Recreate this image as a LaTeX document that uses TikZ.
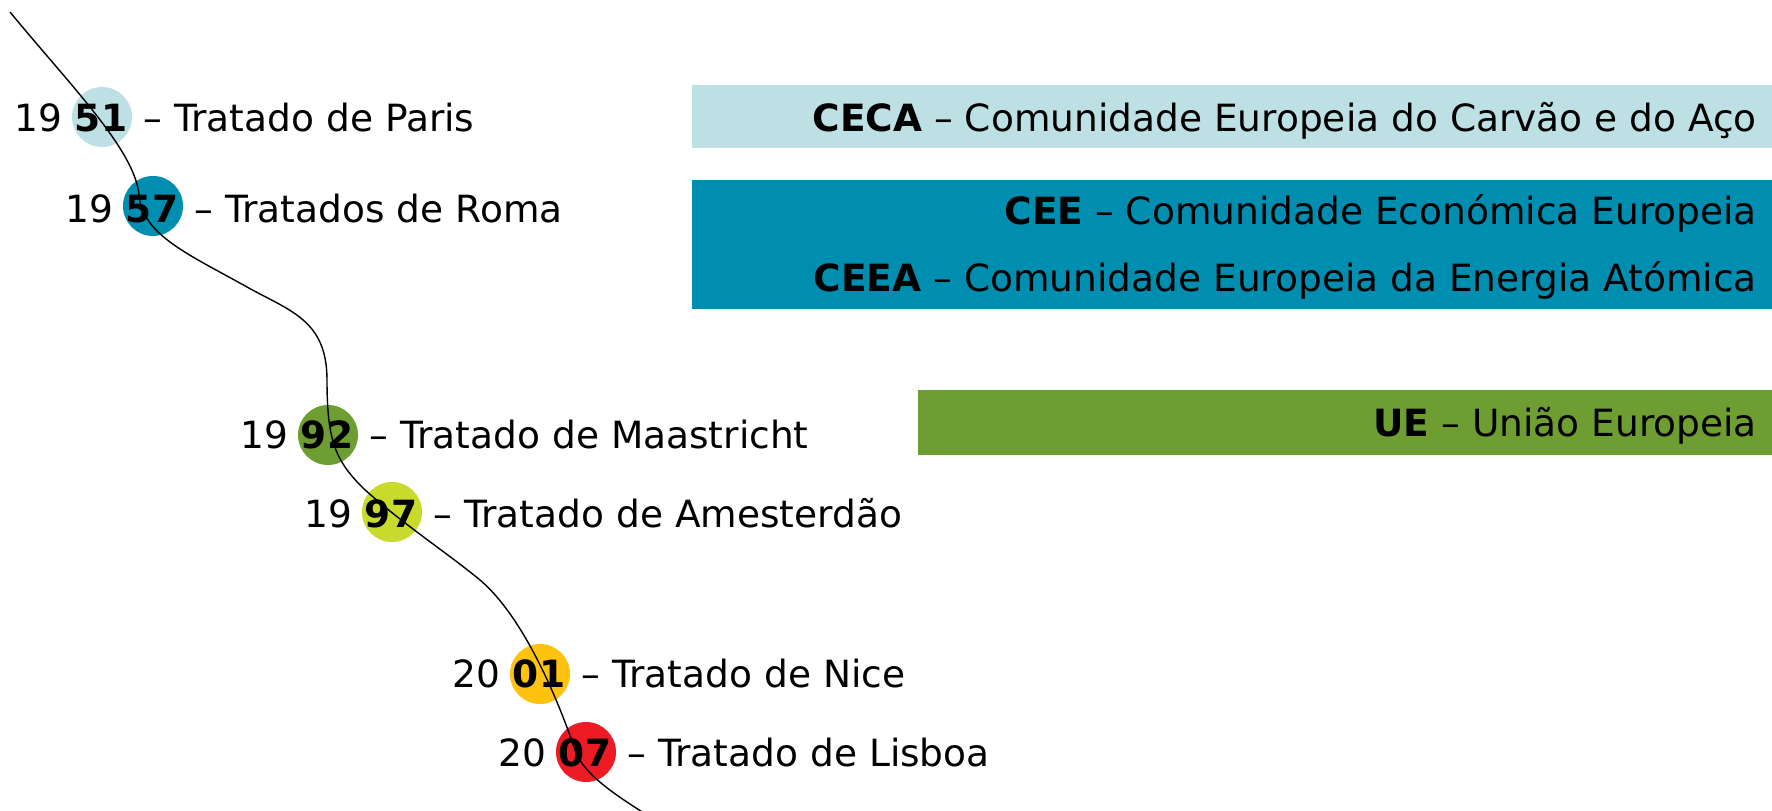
\documentclass[tikz,border=0pt]{standalone}
\usepackage{fontspec}
\setmainfont{DejaVu Sans}
\definecolor{cLight}{HTML}{BCE0E4}
\definecolor{cTeal}{HTML}{008EB0}
\definecolor{cGreen}{HTML}{6E9D31}
\definecolor{cLime}{HTML}{C8DA2B}
\definecolor{cAmber}{HTML}{FFC20F}
\definecolor{cRed}{HTML}{ED1C24}
\begin{document}
\begin{tikzpicture}[x=1pt,y=-1pt,
  txt/.style={inner sep=0pt, font=\fontsize{37.5}{44}\selectfont},
  num/.style={inner sep=0pt, font=\fontsize{37.5}{44}\selectfont\bfseries},
  pre/.style={txt, anchor=base east, xshift=-12pt},
  post/.style={txt, anchor=base west, xshift=16pt},
  dot/.style={circle, minimum size=60pt, inner sep=0pt, draw=none},
  timeline/.style={draw=black, line width=1.4pt}]
\useasboundingbox (0,0) rectangle (1772,811);
\clip (0,0) rectangle (1772,811);

% bands
\fill[cLight] (692,85) rectangle (1772,148);
\fill[cTeal] (692,180) rectangle (1772,309);
\fill[cGreen] (918,390) rectangle (1772,455);

\node[txt, anchor=base east] (tceca) at (1757,131) {\textbf{CECA} – Comunidade Europeia do Carvão e do Aço};
\node[txt, anchor=base east] (tcee) at (1757,224) {\textbf{CEE} – Comunidade Económica Europeia};
\node[txt, anchor=base east] (tceea) at (1757,291) {\textbf{CEEA} – Comunidade Europeia da Energia Atómica};
\node[txt, anchor=base east] (tue) at (1757,436) {\textbf{UE} – União Europeia};

% dots
\node[dot, fill=cLight] (d51) at (102,117) {};
\node[dot, fill=cTeal] (d57) at (153,206) {};
\node[dot, fill=cGreen] (d92) at (328,435) {};
\node[dot, fill=cLime] (d97) at (392,512) {};
\node[dot, fill=cAmber] (d01) at (540,674) {};
\node[dot, fill=cRed] (d07) at (586,752) {};

% numbers
\node[num, anchor=base] (n51) at (101,131.5) {51};
\node[pre] (p51) at (n51.base west) {19};
\node[post] (r51) at (n51.base east) {– Tratado de Paris};

\node[num, anchor=base] (n57) at (152,222) {57};
\node[pre] (p57) at (n57.base west) {19};
\node[post] (r57) at (n57.base east) {– Tratados de Roma};

\node[num, anchor=base] (n92) at (327,448) {92};
\node[pre] (p92) at (n92.base west) {19};
\node[post] (r92) at (n92.base east) {– Tratado de Maastricht};

\node[num, anchor=base] (n97) at (391,527) {97};
\node[pre] (p97) at (n97.base west) {19};
\node[post] (r97) at (n97.base east) {– Tratado de Amesterdão};

\node[num, anchor=base] (n01) at (539,687.5) {01};
\node[pre] (p01) at (n01.base west) {20};
\node[post] (r01) at (n01.base east) {– Tratado de Nice};

\node[num, anchor=base] (n07) at (585,766) {07};
\node[pre] (p07) at (n07.base west) {20};
\node[post] (r07) at (n07.base east) {– Tratado de Lisboa};

% timeline curve
\coordinate (c0) at (10,12);
\coordinate (c1) at (139,195);
\coordinate (c2) at (247,287);
\coordinate (c3) at (327,380);
\coordinate (c4) at (363,488);
\coordinate (c5) at (480,580);
\coordinate (c6) at (575,750);
\coordinate (c7) at (655,820);
\draw[timeline] (c0) .. controls (70,85) and (135,150) .. (c1)
  .. controls (142,235) and (190,255) .. (c2)
  .. controls (290,311) and (327,320) .. (c3)
  .. controls (327,440) and (335,460) .. (c4)
  .. controls (400,522) and (450,555) .. (c5)
  .. controls (525,618) and (560,705) .. (c6)
  .. controls (583,774) and (615,795) .. (c7);
\end{tikzpicture}
\end{document}
